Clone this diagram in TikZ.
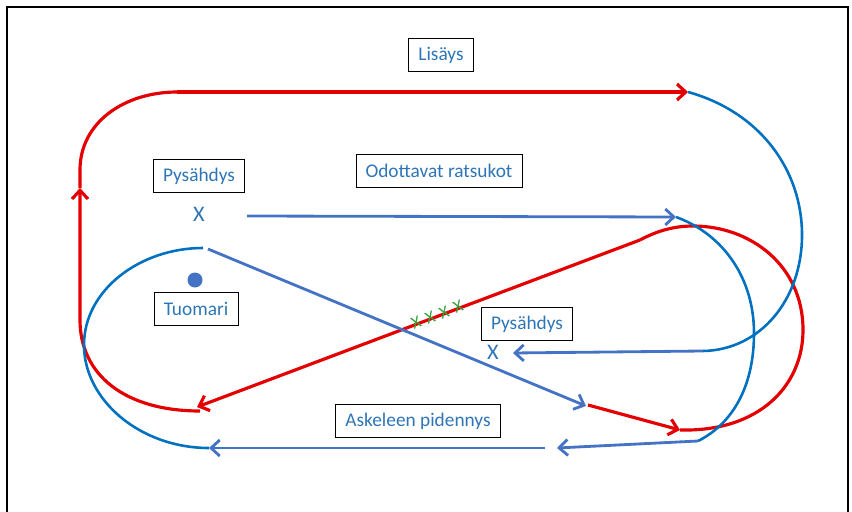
\documentclass[tikz,border=0pt]{standalone}
\usepackage{fontspec}
\setmainfont{Carlito}
\usetikzlibrary{arrows.meta}
\definecolor{txtblue}{RGB}{46,117,182}
\definecolor{arcblue}{RGB}{0,112,192}
\definecolor{lineblue}{RGB}{68,114,196}
\definecolor{lanered}{RGB}{228,0,0}
\definecolor{markgreen}{RGB}{50,165,60}
\begin{document}
\begin{tikzpicture}[x=0.03cm, y=-0.03cm,
        labelbox/.style={draw=black, line width=0.6pt, text=txtblue,
            font=\fontsize{16.5}{20}\selectfont, inner xsep=0.29cm, minimum height=1cm},
        stopmark/.style={text=txtblue, font=\fontsize{19}{20}\selectfont, inner sep=0pt},
        passmark/.style={text=markgreen, font=\fontsize{15}{16}\selectfont, inner sep=0pt, rotate=21},
        redlane/.style={draw=lanered, line width=2.7pt},
        bluearc/.style={draw=arcblue, line width=2.2pt},
        blueline/.style={draw=lineblue, line width=2.4pt},
        tip/.style={-{Straight Barb[length=2.6mm,width=4.8mm]}}]
        \useasboundingbox (0,0) rectangle (852,512);
        \draw[line width=1pt] (7,512) -- (7,7) -- (848,7) -- (848,512);

        % labels
        \node[labelbox] (lisays) at (441,55) {Lisäys};
        \node[labelbox] (stopA) at (199,176) {Pysähdys};
        \node[labelbox] (odottavat) at (439,171) {Odottavat ratsukot};
        \node[labelbox] (tuomari) at (196,309) {Tuomari};
        \node[labelbox] (stopB) at (527,324) {Pysähdys};
        \node[labelbox] (askel) at (418,421) {Askeleen pidennys};

        % stop points and judge
        \node[stopmark] (xA) at (199,214) {X};
        \node[stopmark] (xB) at (493,352) {X};
        \node[circle, fill=lineblue, minimum size=0.45cm, inner sep=0pt] (judge) at (195,280) {};

        % path points
        \coordinate (topL) at (177,92);
        \coordinate (topR) at (688,92);
        \coordinate (leftUp) at (80,188);
        \coordinate (redLow) at (200,411);
        \coordinate (diagTop) at (640,240);
        \coordinate (diagEnd) at (197,407);
        \coordinate (redStart) at (588,405);
        \coordinate (redTip) at (680,430);
        \coordinate (midA) at (247,216);
        \coordinate (midB) at (676,217);
        \coordinate (crossA) at (208,249);
        \coordinate (crossB) at (586,406);
        \coordinate (backA) at (703,351);
        \coordinate (backB) at (513,353);
        \coordinate (lowA) at (698,441);
        \coordinate (lowB) at (557,448);
        \coordinate (lowC) at (545,448);
        \coordinate (lowD) at (209,448);
        \coordinate (arcTop) at (203,248);

        % red track
        \draw[redlane, tip] (redLow) .. controls (125,411) and (80,375) .. (80,320) -- (leftUp);
        \draw[redlane] (leftUp) -- (80,170) .. controls (80,122) and (125,92) .. (topL);
        \draw[redlane, tip] (topL) -- (topR);
        \draw[redlane, tip] (redStart) -- (redTip);
        \draw[redlane] (redTip) .. controls (760,432) and (803,385) .. (803,330)
            .. controls (803,265) and (750,226) .. (693,226)
            .. controls (672,226) and (655,232) .. (diagTop);
        \draw[redlane, tip] (diagTop) -- (diagEnd);

        % blue track
        \draw[bluearc] (topR) .. controls (760,112) and (802,170) .. (802,235)
            .. controls (802,300) and (760,350) .. (backA);
        \draw[blueline, tip] (backA) -- (backB);
        \draw[blueline, tip] (midA) -- (midB);
        \draw[bluearc] (midB) .. controls (725,235) and (754,280) .. (754,333)
            .. controls (754,390) and (730,425) .. (lowA);
        \draw[blueline, tip] (lowA) -- (lowB);
        \draw[blueline, tip] (lowC) -- (lowD);
        \draw[bluearc] (lowD) .. controls (140,448) and (84,400) .. (84,345)
            .. controls (84,290) and (140,248) .. (arcTop);
        \draw[blueline, tip] (crossA) -- (crossB);

        % passing marks
        \foreach \gx/\gy [count=\i] in {416/323, 430/318, 444/313, 458/307}
            \node[passmark] (pass\i) at (\gx,\gy) {X};
\end{tikzpicture}
\end{document}
